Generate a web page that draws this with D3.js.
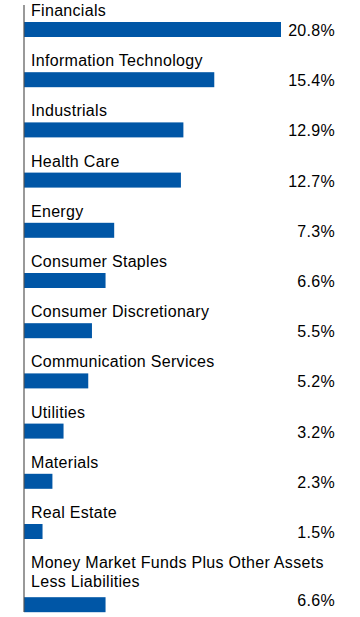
<!DOCTYPE html>
<html><head><meta charset="utf-8">
<script src="https://cdn.jsdelivr.net/npm/d3@7"></script>
<style>html,body{margin:0;padding:0;background:#fff;}svg{display:block;}</style>
</head><body>
<svg id="chart" width="360" height="617"></svg>
<script>
const categories = ["Financials","Information Technology","Industrials","Health Care","Energy","Consumer Staples","Consumer Discretionary","Communication Services","Utilities","Materials","Real Estate","Money Market Funds Plus Other Assets|Less Liabilities"];
const values = [20.8,15.4,12.9,12.7,7.3,6.6,5.5,5.2,3.2,2.3,1.5,6.6];
const valueLabels = ["20.8%","15.4%","12.9%","12.7%","7.3%","6.6%","5.5%","5.2%","3.2%","2.3%","1.5%","6.6%"];

const svg = d3.select("#chart");
const font = "'Liberation Sans', Arial, sans-serif";
const x = d3.scaleLinear().domain([0, 20.8]).range([24, 281]);
const y = d3.scaleBand().domain(categories).range([0, 12*50.2]).paddingInner(0).paddingOuter(0);
const extra = c => (c.split("|").length - 1) * 19;

const g = svg.append("g");
categories.forEach((c, i) => {
  const lines = c.split("|");
  const top = y(c);
  const t = g.append("text").attr("x", 31).attr("y", top + 16)
    .attr("font-family", font).attr("font-size", 16).attr("letter-spacing", 0.3).attr("fill", "#000");
  lines.forEach((l, j) => t.append("tspan").attr("x", 31).attr("dy", j === 0 ? 0 : 19).text(l));
  const by = top + 22 + extra(c) + (lines.length > 1 ? 4 : 0);
  g.append("rect").attr("x", x(0)).attr("y", by).attr("width", x(values[i]) - x(0)).attr("height", 15).attr("fill", "#0056a6");
  g.append("text").attr("x", 335).attr("y", by + 14 - (lines.length > 1 ? 5 : 0))
    .attr("text-anchor", "end").attr("font-family", font).attr("font-size", 16).attr("letter-spacing", 0.3).attr("fill", "#000")
    .text(valueLabels[i]);
});
svg.append("line").attr("x1", 24).attr("x2", 24).attr("y1", 5).attr("y2", 612)
  .attr("stroke", "#555").attr("stroke-width", 1.2);
</script>
</body></html>
